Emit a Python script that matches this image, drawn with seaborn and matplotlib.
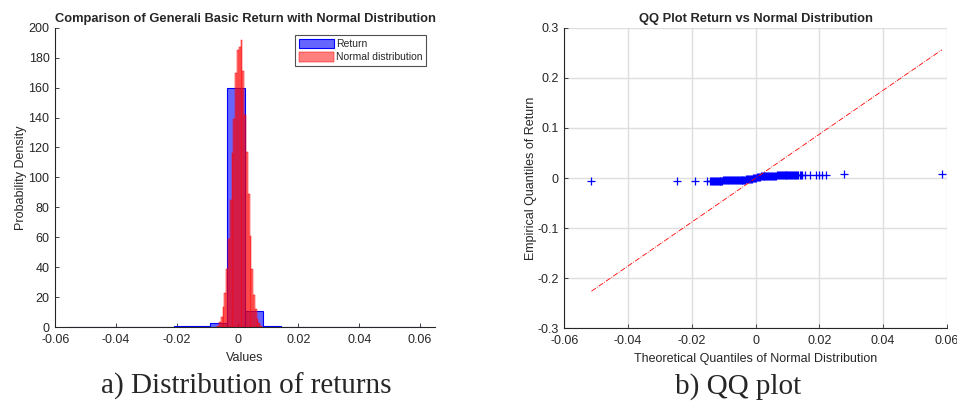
import numpy as np
import pandas as pd
import seaborn as sns
import matplotlib
matplotlib.use("Agg")
import matplotlib.pyplot as plt
from matplotlib.ticker import FuncFormatter

# --- histogram of returns (density per bin) ---
ret_edges = [-0.0558, -0.0500, -0.0441, -0.0383, -0.0325, -0.0267, -0.0209,
             -0.0150, -0.0092, -0.0034, 0.0024, 0.0083, 0.0141, 0.0199,
             0.0257, 0.0315, 0.0374, 0.0432, 0.0490, 0.0548, 0.0606]
ret_density = [0.3, 0, 0, 0, 0, 0.3, 0.6, 0.7, 2.9, 160, 10.5, 0.7, 0.3,
               0.3, 0.3, 0, 0, 0, 0, 0.3]

# --- histogram of simulated normal sample ---
norm_edges = [-0.00670, -0.00611, -0.00552, -0.00494, -0.00435, -0.00376,
              -0.00317, -0.00258, -0.00199, -0.00141, -0.00082, -0.00023,
              0.00036, 0.00095, 0.00154, 0.00212, 0.00271, 0.00330, 0.00389,
              0.00448, 0.00506, 0.00565, 0.00624, 0.00683, 0.00742, 0.00801]
norm_density = [1, 3.5, 6.9, 13.6, 23, 38.5, 59, 85, 116.5, 139, 170, 185,
                187.3, 191.8, 171, 141.7, 117, 88.7, 60.8, 38.5, 21.4, 12,
                5.5, 2.5, 1]

# --- QQ plot points ---
qq_x_tail_lo = [-0.0515, -0.0246, -0.0190, -0.0153]
qq_y_tail_lo = [-0.0062, -0.0060, -0.0058, -0.0057]
qq_x_lo = [-0.0143, -0.0140, -0.0137, -0.0134, -0.0131, -0.0128, -0.0125,
           -0.0122, -0.0119, -0.0116, -0.0113, -0.0110, -0.0107, -0.0104,
           -0.0101, -0.0098, -0.0095, -0.0092, -0.0089, -0.0086, -0.0083,
           -0.0080, -0.0077, -0.0074, -0.0071, -0.0068, -0.0065, -0.0062,
           -0.0059, -0.0056, -0.0053, -0.0050, -0.0047, -0.0044, -0.0041,
           -0.0038, -0.0035, -0.0032, -0.0029, -0.0026, -0.0023, -0.0020,
           -0.0017, -0.0014, -0.0011, -0.0008, -0.0005, -0.0002]
qq_y_lo = [-0.0056, -0.0056, -0.0055, -0.0055, -0.0054, -0.0054, -0.0053,
           -0.0053, -0.0052, -0.0052, -0.0051, -0.0051, -0.0050, -0.0050,
           -0.0049, -0.0049, -0.0048, -0.0048, -0.0047, -0.0047, -0.0046,
           -0.0046, -0.0045, -0.0045, -0.0044, -0.0044, -0.0043, -0.0043,
           -0.0042, -0.0041, -0.0040, -0.0039, -0.0038, -0.0037, -0.0036,
           -0.0034, -0.0032, -0.0030, -0.0028, -0.0026, -0.0023, -0.0020,
           -0.0017, -0.0014, -0.0011, -0.0008, -0.0005, -0.0002]
qq_x_hi = [0.0001, 0.0004, 0.0007, 0.0010, 0.0013, 0.0016, 0.0019, 0.0022,
           0.0025, 0.0028, 0.0031, 0.0034, 0.0037, 0.0040, 0.0043, 0.0046,
           0.0049, 0.0052, 0.0055, 0.0058, 0.0061, 0.0064, 0.0067, 0.0070,
           0.0073, 0.0076, 0.0079, 0.0082, 0.0085, 0.0088, 0.0091, 0.0094,
           0.0097, 0.0100, 0.0103, 0.0106, 0.0109, 0.0112, 0.0115, 0.0118,
           0.0121, 0.0124, 0.0127, 0.0130, 0.0134, 0.0138, 0.0142]
qq_y_hi = [0.0010, 0.0016, 0.0021, 0.0025, 0.0028, 0.0031, 0.0033, 0.0035,
           0.0037, 0.0039, 0.0040, 0.0041, 0.0042, 0.0043, 0.0044, 0.0045,
           0.0046, 0.0047, 0.0048, 0.0048, 0.0049, 0.0049, 0.0050, 0.0050,
           0.0051, 0.0051, 0.0052, 0.0052, 0.0053, 0.0053, 0.0054, 0.0054,
           0.0055, 0.0055, 0.0056, 0.0056, 0.0057, 0.0057, 0.0058, 0.0058,
           0.0059, 0.0059, 0.0060, 0.0060, 0.0061, 0.0061, 0.0062]
qq_x_tail_hi = [0.0145, 0.0155, 0.0170, 0.0190, 0.0200, 0.0210, 0.0220,
                0.0277, 0.0585]
qq_y_tail_hi = [0.0062, 0.0063, 0.0064, 0.0065, 0.0066, 0.0067, 0.0068,
                0.0075, 0.0086]
ref_x = [-0.0515, 0.0585]
ref_y = [-0.226, 0.256]

qq_x = qq_x_tail_lo + qq_x_lo + qq_x_hi + qq_x_tail_hi
qq_y = qq_y_tail_lo + qq_y_lo + qq_y_hi + qq_y_tail_hi

sns.set_theme(style="white")
plt.rcParams["font.family"] = ["Liberation Sans", "DejaVu Sans"]
plt.rcParams["axes.unicode_minus"] = False
plt.rcParams["xtick.direction"] = "in"
plt.rcParams["ytick.direction"] = "in"

tick_col = "#262626"
fmt = FuncFormatter(lambda v, p: "{:g}".format(round(v, 4)))

fig = plt.figure(figsize=(9.57, 4.01), dpi=100)
ax1 = fig.add_axes([0.0575, 0.1845, 0.397, 0.7464])
ax2 = fig.add_axes([0.5897, 0.1813, 0.3996, 0.7496])


def centers(edges):
    e = np.array(edges)
    return (e[:-1] + e[1:]) / 2


# left panel
ret_df = pd.DataFrame({"value": centers(ret_edges), "density": ret_density})
norm_df = pd.DataFrame({"value": centers(norm_edges), "density": norm_density})

sns.histplot(data=ret_df, x="value", weights="density", bins=list(ret_edges),
             stat="count", color="blue", alpha=0.6, edgecolor="blue",
             linewidth=0.8, label="Return", ax=ax1)
sns.histplot(data=norm_df, x="value", weights="density", bins=list(norm_edges),
             stat="count", color="red", alpha=0.5, edgecolor="red",
             linewidth=0.35, label="Normal distribution", ax=ax1)
ax1.set_xlim(-0.0601, 0.0649)
ax1.set_ylim(0, 200)
ax1.set_xticks([-0.06, -0.04, -0.02, 0, 0.02, 0.04, 0.06])
ax1.set_yticks(range(0, 201, 20))
ax1.xaxis.set_major_formatter(fmt)
ax1.set_title("Comparison of Generali Basic Return with Normal Distribution",
              fontsize=9.3, fontweight="bold", pad=4)
ax1.set_xlabel("Values", fontsize=9, color=tick_col, labelpad=4)
ax1.set_ylabel("Probability Density", fontsize=9, color=tick_col, labelpad=1)
leg = ax1.legend(loc="upper right", bbox_to_anchor=(0.977, 0.975), fontsize=7.5,
                 frameon=True, fancybox=False, edgecolor="#262626",
                 handlelength=3.4, handleheight=1.0, borderpad=0.35,
                 labelspacing=0.3, handletextpad=0.2, borderaxespad=0)
leg.get_frame().set_linewidth(0.8)

# right panel
ax2.grid(True, color="#dedede", linewidth=1.0)
ax2.set_axisbelow(True)
sns.lineplot(x=ref_x, y=ref_y, color="red", linestyle="-.", linewidth=0.6,
             ax=ax2)
sns.scatterplot(x=qq_x, y=qq_y, marker="+", color="blue", s=32,
                linewidth=0.9, ax=ax2)
ax2.set_xlim(-0.06, 0.06)
ax2.set_ylim(-0.3, 0.3)
ax2.set_xticks([-0.06, -0.04, -0.02, 0, 0.02, 0.04, 0.06])
ax2.set_yticks([-0.3, -0.2, -0.1, 0, 0.1, 0.2, 0.3])
ax2.xaxis.set_major_formatter(fmt)
ax2.yaxis.set_major_formatter(fmt)
ax2.set_title("QQ Plot Return vs Normal Distribution", fontsize=9.3,
              fontweight="bold", pad=4)
ax2.set_xlabel("Theoretical Quantiles of Normal Distribution", fontsize=9,
               color=tick_col, labelpad=4)
ax2.set_ylabel("Empirical Quantiles of Return", fontsize=9, color=tick_col,
               labelpad=0)

for ax in (ax1, ax2):
    for s in ("top", "right"):
        ax.spines[s].set_visible(False)
    for s in ("left", "bottom"):
        ax.spines[s].set_color("#262626")
        ax.spines[s].set_linewidth(0.8)
    ax.tick_params(labelsize=9, colors=tick_col, length=3, width=0.6,
                   left=True, bottom=True)
    ax.tick_params(axis="x", pad=5)
    ax.tick_params(axis="y", pad=4)

fig.text(0.257, 0.0175, "a) Distribution of returns", fontsize=21,
         family=["Liberation Serif", "DejaVu Serif"], ha="center",
         va="baseline")
fig.text(0.771, 0.0175, "b) QQ plot", fontsize=21,
         family=["Liberation Serif", "DejaVu Serif"], ha="center",
         va="baseline")

fig.savefig("out.png", dpi=100)
